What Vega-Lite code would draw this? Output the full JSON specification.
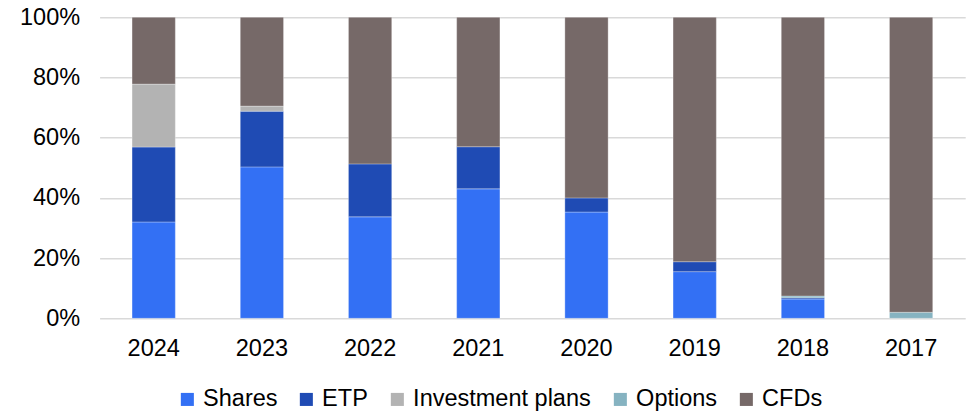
{
  "$schema": "https://vega.github.io/schema/vega-lite/v6.json",
  "width": 865.6,
  "height": 301,
  "autosize": {"type": "none"},
  "padding": {"left": 99.6, "top": 17.3, "right": 2.8, "bottom": 93.7},
  "background": "#ffffff",
  "config": {
    "view": {"stroke": null},
    "font": "Liberation Sans",
    "axis": {
      "labelFont": "Liberation Sans",
      "labelFontSize": 23.5,
      "labelColor": "#000000",
      "domain": false,
      "ticks": false,
      "tickSize": 0,
      "title": null
    },
    "legend": {
      "labelFont": "Liberation Sans",
      "labelFontSize": 23.5,
      "labelColor": "#000000",
      "labelLimit": 400
    }
  },
  "data": {
    "values": [
      {"year": "2024", "type": "Shares", "share": 32.0},
      {"year": "2024", "type": "ETP", "share": 24.9},
      {"year": "2024", "type": "Investment plans", "share": 20.9},
      {"year": "2024", "type": "CFDs", "share": 22.2},
      {"year": "2023", "type": "Shares", "share": 50.3},
      {"year": "2023", "type": "ETP", "share": 18.5},
      {"year": "2023", "type": "Investment plans", "share": 1.7},
      {"year": "2023", "type": "CFDs", "share": 29.5},
      {"year": "2022", "type": "Shares", "share": 33.7},
      {"year": "2022", "type": "ETP", "share": 17.6},
      {"year": "2022", "type": "CFDs", "share": 48.7},
      {"year": "2021", "type": "Shares", "share": 43.0},
      {"year": "2021", "type": "ETP", "share": 14.0},
      {"year": "2021", "type": "CFDs", "share": 43.0},
      {"year": "2020", "type": "Shares", "share": 35.3},
      {"year": "2020", "type": "ETP", "share": 4.7},
      {"year": "2020", "type": "CFDs", "share": 60.0},
      {"year": "2019", "type": "Shares", "share": 15.5},
      {"year": "2019", "type": "ETP", "share": 3.3},
      {"year": "2019", "type": "CFDs", "share": 81.2},
      {"year": "2018", "type": "Shares", "share": 6.4},
      {"year": "2018", "type": "ETP", "share": 0.4},
      {"year": "2018", "type": "Options", "share": 0.6},
      {"year": "2018", "type": "CFDs", "share": 92.6},
      {"year": "2017", "type": "Options", "share": 2.0},
      {"year": "2017", "type": "CFDs", "share": 98.0}
    ]
  },
  "transform": [
    {"calculate": "indexof(['Shares', 'ETP', 'Investment plans', 'Options', 'CFDs'], datum.type)", "as": "stackOrder"}
  ],
  "mark": {"type": "bar", "stroke": "#ffffff", "strokeWidth": 0.6, "strokeOpacity": 0.5},
  "encoding": {
    "x": {
      "field": "year",
      "type": "nominal",
      "sort": ["2024", "2023", "2022", "2021", "2020", "2019", "2018", "2017"],
      "scale": {"paddingInner": 0.6, "paddingOuter": 0.3},
      "axis": {"labelAngle": 0, "labelPadding": 18, "grid": false}
    },
    "y": {
      "field": "share",
      "type": "quantitative",
      "stack": "normalize",
      "scale": {"domain": [0, 1]},
      "axis": {
        "format": ".0%",
        "values": [0, 0.2, 0.4, 0.6, 0.8, 1],
        "labelPadding": 20,
        "grid": true,
        "gridColor": "#d9d9d9",
        "gridWidth": 1.6
      }
    },
    "order": {"field": "stackOrder", "type": "quantitative", "sort": "ascending"},
    "color": {
      "field": "type",
      "type": "nominal",
      "scale": {
        "domain": ["Shares", "ETP", "Investment plans", "Options", "CFDs"],
        "range": ["#3370f4", "#1f4bb4", "#b3b3b3", "#86b3c1", "#766968"]
      },
      "legend": {
        "title": null,
        "orient": "none",
        "direction": "horizontal",
        "legendX": 76,
        "legendY": 370,
        "padding": 0,
        "symbolType": "square",
        "symbolSize": 170,
        "symbolStrokeWidth": 0,
        "labelOffset": 4,
        "columnPadding": 17
      }
    }
  }
}
